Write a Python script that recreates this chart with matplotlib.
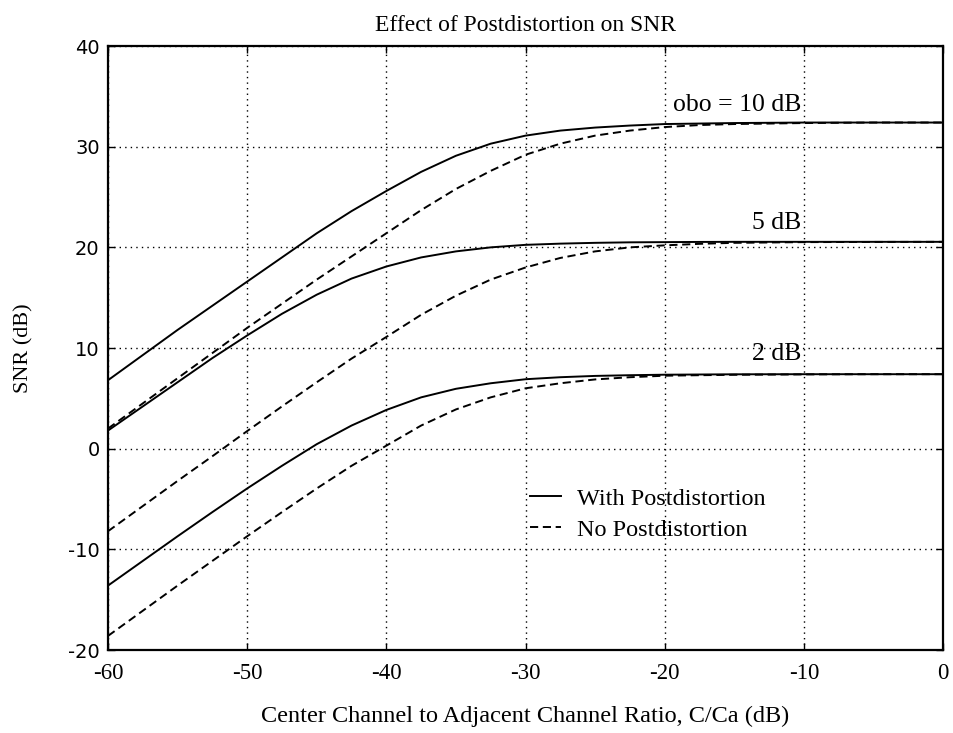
import matplotlib
matplotlib.use("Agg")
import matplotlib.pyplot as plt
from matplotlib.lines import Line2D

# C/Ca sample points (dB)
cca = [-60, -57.5, -55, -52.5, -50, -47.5, -45, -42.5, -40, -37.5, -35, -32.5,
       -30, -27.5, -25, -22.5, -20, -17.5, -15, -10, -5, 0]

# SNR (dB) with postdistortion
snr_post_10 = [6.8, 9.3, 11.8, 14.2, 16.6, 19.0, 21.4, 23.6, 25.6, 27.5, 29.1, 30.3,
               31.1, 31.6, 31.9, 32.1, 32.25, 32.3, 32.35, 32.4, 32.4, 32.4]
snr_post_5 = [1.8, 4.2, 6.6, 9.0, 11.25, 13.4, 15.3, 16.9, 18.1, 19.0, 19.6, 20.0,
              20.25, 20.37, 20.45, 20.5, 20.52, 20.54, 20.55, 20.55, 20.55, 20.55]
snr_post_2 = [-13.6, -11.15, -8.7, -6.3, -3.95, -1.7, 0.45, 2.3, 3.85, 5.1, 5.95, 6.5,
              6.9, 7.1, 7.23, 7.3, 7.35, 7.37, 7.39, 7.4, 7.4, 7.4]

# SNR (dB) without postdistortion
snr_nopost_10 = [2.0, 4.5, 7.0, 9.5, 12.0, 14.4, 16.8, 19.1, 21.4, 23.7, 25.8, 27.6,
                 29.2, 30.3, 31.1, 31.6, 31.95, 32.15, 32.25, 32.35, 32.4, 32.4]
snr_nopost_5 = [-8.2, -5.7, -3.2, -0.75, 1.75, 4.2, 6.6, 8.95, 11.1, 13.3, 15.2, 16.8,
                18.0, 18.95, 19.6, 20.0, 20.2, 20.35, 20.45, 20.52, 20.54, 20.55]
snr_nopost_2 = [-18.6, -16.1, -13.6, -11.15, -8.7, -6.3, -3.95, -1.7, 0.3, 2.3, 3.9, 5.1,
                6.0, 6.5, 6.88, 7.1, 7.25, 7.3, 7.34, 7.38, 7.4, 7.4]

curve_labels = ["obo = 10 dB", "5 dB", "2 dB"]
label_y = [34.1, 22.4, 9.4]
label_x = -10.2

xticks = [-60, -50, -40, -30, -20, -10, 0]
yticks = [-20, -10, 0, 10, 20, 30, 40]

serif = ["Liberation Serif", "DejaVu Serif"]
plt.rcParams["font.family"] = serif
plt.rcParams["xtick.labelsize"] = 16.5
plt.rcParams["ytick.labelsize"] = 14

fig = plt.figure(figsize=(9.54, 7.33), dpi=100)
ax = fig.add_axes([0.1132, 0.1132, 0.8753, 0.824])

dash = (0, (4.2, 2.4))
for post, nopost in [(snr_post_10, snr_nopost_10), (snr_post_5, snr_nopost_5),
                     (snr_post_2, snr_nopost_2)]:
    ax.plot(cca, post, color="black", lw=1.4, solid_capstyle="butt",
            solid_joinstyle="round")
    ax.plot(cca, nopost, color="black", lw=1.4, linestyle=dash)

for txt, yv in zip(curve_labels, label_y):
    ax.text(label_x, yv, txt, ha="right", va="center", fontsize=18.5)

ax.set_xlim(-60, 0)
ax.set_ylim(-20, 40)
ax.tick_params(direction="in", length=5, width=1, top=True, right=True,
               labeltop=False, labelright=False)
ax.tick_params(axis="x", pad=9)
ax.tick_params(axis="y", pad=6)
ax.set_xticks(xticks)
ax.set_yticks(yticks)
ax.set_xticklabels([str(v) for v in xticks])
ax.set_yticklabels([str(v) for v in yticks])
for lbl in ax.get_yticklabels():
    lbl.set_fontfamily("DejaVu Sans")

ax.grid(True, color="black", linestyle=(0, (1, 3)), linewidth=1.0)
for sp in ax.spines.values():
    sp.set_linewidth(1.6)

ax.set_title("Effect of Postdistortion on SNR", fontsize=17, pad=11)
ax.set_xlabel("Center Channel to Adjacent Channel Ratio, C/Ca (dB)",
              fontsize=17.5, labelpad=16)
ax.set_ylabel("SNR (dB)", fontsize=16, labelpad=25)

handles = [Line2D([], [], color="black", lw=1.4),
           Line2D([], [], color="black", lw=1.4, linestyle=dash)]
leg = ax.legend(handles, ["With Postdistortion", "No Postdistortion"],
                loc="center left", bbox_to_anchor=(0.505, 0.225), frameon=False,
                borderpad=0, borderaxespad=0,
                handlelength=1.3, handletextpad=0.66, labelspacing=0.37,
                prop={"size": 17.5})

fig.savefig("out.png", dpi=100)
